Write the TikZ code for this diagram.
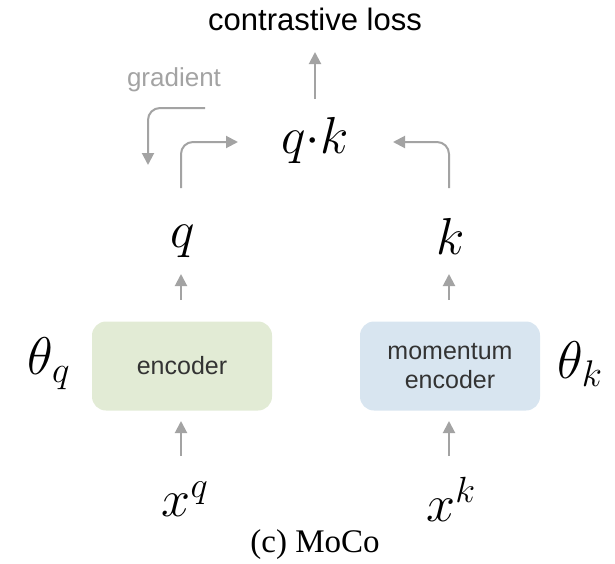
\RequirePackage{fix-cm}
\documentclass[tikz,border=0pt]{standalone}
\usepackage{fontspec}
\setsansfont{Liberation Sans}
\newfontfamily\capfont{Liberation Serif}
\usetikzlibrary{arrows.meta}
\definecolor{arrgray}{HTML}{A3A3A3}
\definecolor{encgreen}{HTML}{E2EBD5}
\definecolor{encblue}{HTML}{D8E5F0}
\tikzset{
  arr/.style={draw=arrgray, line width=2pt, -{Triangle[length=12pt,width=12pt]}, rounded corners=12pt},
  encbox/.style={rounded corners=14pt, minimum width=180pt, minimum height=89pt, inner sep=0pt, align=center, font=\sffamily\fontsize{25}{29}\selectfont, text=black!80},
  mathlbl/.style={inner sep=0pt, font=\fontsize{52}{56}\selectfont},
  thetalbl/.style={inner sep=0pt, font=\fontsize{53}{57}\selectfont},
}
\begin{document}
\begin{tikzpicture}[x=1pt,y=-1pt]
\useasboundingbox (0,0) rectangle (615,563);
\node[font=\sffamily\fontsize{31}{35}\selectfont] (loss) at (315,19) {contrastive loss};
\node[font=\sffamily\fontsize{26}{30}\selectfont, text=arrgray] (grad) at (174,80) {gradient};
\node[mathlbl] (qk) at (315,140) {$q{\cdot}k$};
\node[mathlbl] (q) at (183,241) {$q$};
\node[mathlbl] (k) at (451,236) {$k$};
\node[encbox, fill=encgreen] (enc) at (182,366) {encoder};
\node[encbox, fill=encblue] (menc) at (450,366) {momentum\\encoder};
\node[thetalbl] (tq) at (49,364) {$\theta_q$};
\node[thetalbl] (tk) at (580,364) {$\theta_k$};
\node[mathlbl] (xq) at (185,499) {$x^q$};
\node[mathlbl] (xk) at (451,499) {$x^k$};
\node[font=\capfont\fontsize{33}{37}\selectfont] (cap) at (315,545) {(c) MoCo};
\coordinate (lossbot) at (315,99);
\coordinate (g1) at (205,108);
\coordinate (g2) at (148,108);
\coordinate (g3) at (148,165);
\coordinate (qa) at (181,188);
\coordinate (qb) at (181,142);
\coordinate (qc) at (238,142);
\coordinate (ka) at (449,188);
\coordinate (kb) at (449,142);
\coordinate (kc) at (393,142);
\draw[arr] (lossbot) -- (315,52);
\draw[arr] (g1) -- (g2) -- (g3);
\draw[arr] (qa) -- (qb) -- (qc);
\draw[arr] (ka) -- (kb) -- (kc);
\draw[arr] (181,300) -- (181,274);
\draw[arr] (449,300) -- (449,274);
\draw[arr] (181,456) -- (181,421);
\draw[arr] (449,456) -- (449,421);
\end{tikzpicture}
\end{document}
